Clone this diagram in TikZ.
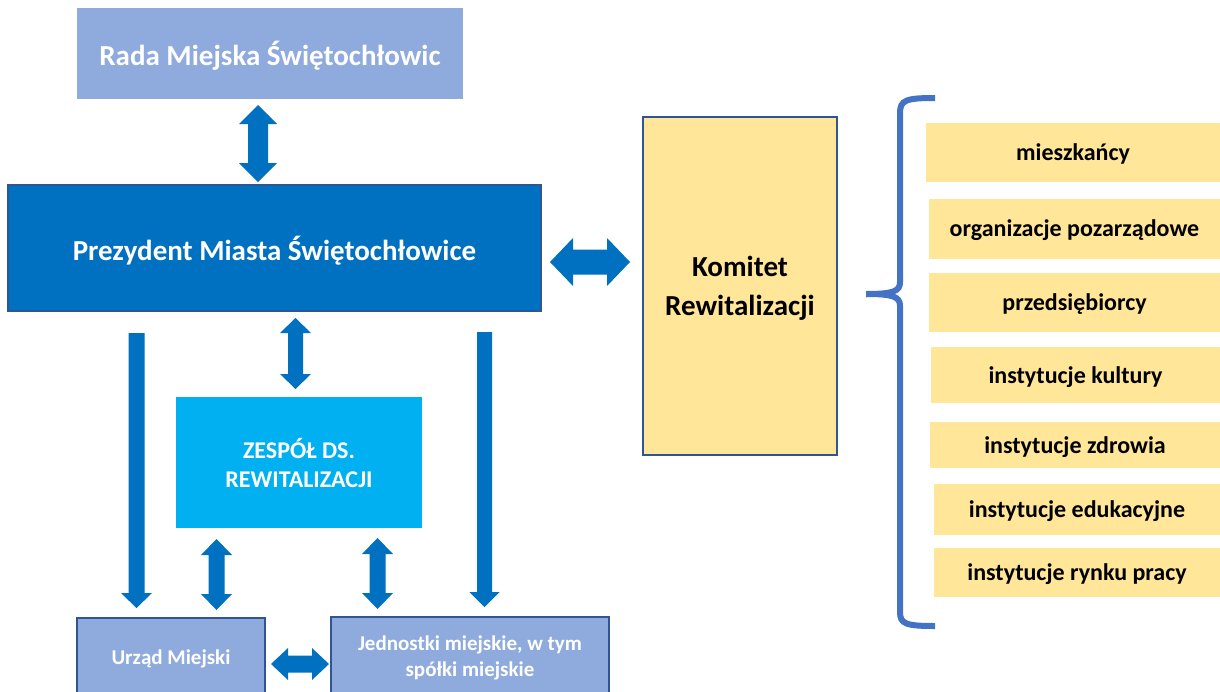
\documentclass[tikz,border=0pt]{standalone}
\usepackage{fontspec}
\setmainfont{Carlito}
\definecolor{radablue}{HTML}{8FAADC}
\definecolor{prezblue}{HTML}{0070C0}
\definecolor{edgeblue}{HTML}{2F5597}
\definecolor{zespolblue}{HTML}{00B0F0}
\definecolor{paleyellow}{HTML}{FFE699}
\definecolor{braceblue}{HTML}{4472C4}
% vertical double block arrow: x, ytop, ybottom, shaft half, head half, head length
\newcommand\vdblarrow[6]{\fill[prezblue] (#1,#2) -- (#1+#5,#2+#6) -- (#1+#4,#2+#6) -- (#1+#4,#3-#6) -- (#1+#5,#3-#6) -- (#1,#3) -- (#1-#5,#3-#6) -- (#1-#4,#3-#6) -- (#1-#4,#2+#6) -- (#1-#5,#2+#6) -- cycle;}
% horizontal double block arrow: y, xleft, xright, shaft half, head half, head length
\newcommand\hdblarrow[6]{\fill[prezblue] (#2,#1) -- (#2+#6,#1-#5) -- (#2+#6,#1-#4) -- (#3-#6,#1-#4) -- (#3-#6,#1-#5) -- (#3,#1) -- (#3-#6,#1+#5) -- (#3-#6,#1+#4) -- (#2+#6,#1+#4) -- (#2+#6,#1+#5) -- cycle;}
% vertical single down block arrow: x, ytop, ytip, shaft half, head half, head length
\newcommand\vdownarrow[6]{\fill[prezblue] (#1-#4,#2) -- (#1+#4,#2) -- (#1+#4,#3-#6) -- (#1+#5,#3-#6) -- (#1,#3) -- (#1-#5,#3-#6) -- (#1-#4,#3-#6) -- cycle;}
\begin{document}
\begin{tikzpicture}[x=1pt,y=-1pt,
  box/.style={rectangle,inner sep=0pt,align=center,font=\bfseries},
  ybox/.style={box,text depth=0pt,fill=paleyellow,text=black,minimum height=#1,font=\fontsize{24}{28}\selectfont\bfseries},
]
\useasboundingbox (0,0) rectangle (1220,691);
\clip (0,0) rectangle (1220,691);
\fill[white] (0,0) rectangle (1220,691);

% top boxes
\node[box,text depth=0pt,fill=radablue,text=white,minimum width=386pt,minimum height=91pt,
  font=\fontsize{29}{34}\selectfont\bfseries] (rada) at (270,53.5) {Rada Miejska Świętochłowic};
\node[box,text depth=0pt,fill=prezblue,draw=edgeblue,line width=1.5pt,text=white,minimum width=533pt,minimum height=126pt,
  font=\fontsize{29}{34}\selectfont\bfseries] (prez) at (274.5,248) {Prezydent Miasta Świętochłowice};
\node[box,text depth=0pt,fill=paleyellow,draw=edgeblue,line width=2pt,text=black,minimum width=194pt,minimum height=338pt,
  font=\fontsize{29}{39}\selectfont\bfseries] (kom) at (740,286) {Komitet\\Rewitalizacji};
\node[box,fill=zespolblue,text=white,minimum width=246pt,minimum height=131pt,
  font=\fontsize{24}{29}\selectfont\bfseries] (zesp) at (299,462.5) {ZESPÓŁ DS.\\REWITALIZACJI};
\node[box,fill=radablue,draw=edgeblue,line width=2pt,text=white,minimum width=188pt,minimum height=81pt,
  font=\fontsize{21}{25}\selectfont\bfseries] (urzad) at (171,658.5) {Urząd Miejski};
\node[box,fill=radablue,draw=edgeblue,line width=2pt,text=white,minimum width=278pt,minimum height=81pt,
  font=\fontsize{21}{26}\selectfont\bfseries] (jedn) at (470,657.5) {Jednostki miejskie, w tym\\spółki miejskie};

% block arrows
\vdblarrow{258}{105}{182}{10}{19}{19}
\hdblarrow{262}{550}{630}{12.5}{24}{23}
\vdblarrow{295.5}{318}{389}{7.5}{15.5}{15}
\vdblarrow{216.5}{539}{610}{8}{15.5}{16}
\vdblarrow{377.5}{538}{609}{8}{15.5}{16}
\hdblarrow{664}{271}{329}{8.5}{16}{17}
\vdownarrow{136.5}{333}{608}{8}{15.5}{15}
\vdownarrow{484.5}{332}{607}{7.5}{15}{15}

% brace
\draw[braceblue,line width=6pt] (935,98) .. controls (906,98) and (900,100) .. (900,113) -- (900,282)
  .. controls (900,291) and (894,294) .. (866,294);
\draw[braceblue,line width=6pt] (866,294) .. controls (894,294) and (900,297) .. (900,306) -- (900,612)
  .. controls (900,624) and (906,626) .. (935,626);

% stakeholder boxes
\node[ybox=59pt,minimum width=294pt] (m1) at (1073,152.5) {mieszkańcy};
\node[ybox=60pt,minimum width=291pt] (m2) at (1074.5,228.5) {organizacje pozarządowe};
\node[ybox=59pt,minimum width=291pt] (m3) at (1074.5,302.5) {przedsiębiorcy};
\node[ybox=56pt,minimum width=289pt] (m4) at (1075.5,375) {instytucje kultury};
\node[ybox=46pt,minimum width=290pt] (m5) at (1075,445) {instytucje zdrowia};
\node[ybox=51pt,minimum width=286pt] (m6) at (1077,509) {instytucje edukacyjne};
\node[ybox=49pt,minimum width=286pt] (m7) at (1077,572) {instytucje rynku pracy};
\end{tikzpicture}
\end{document}
